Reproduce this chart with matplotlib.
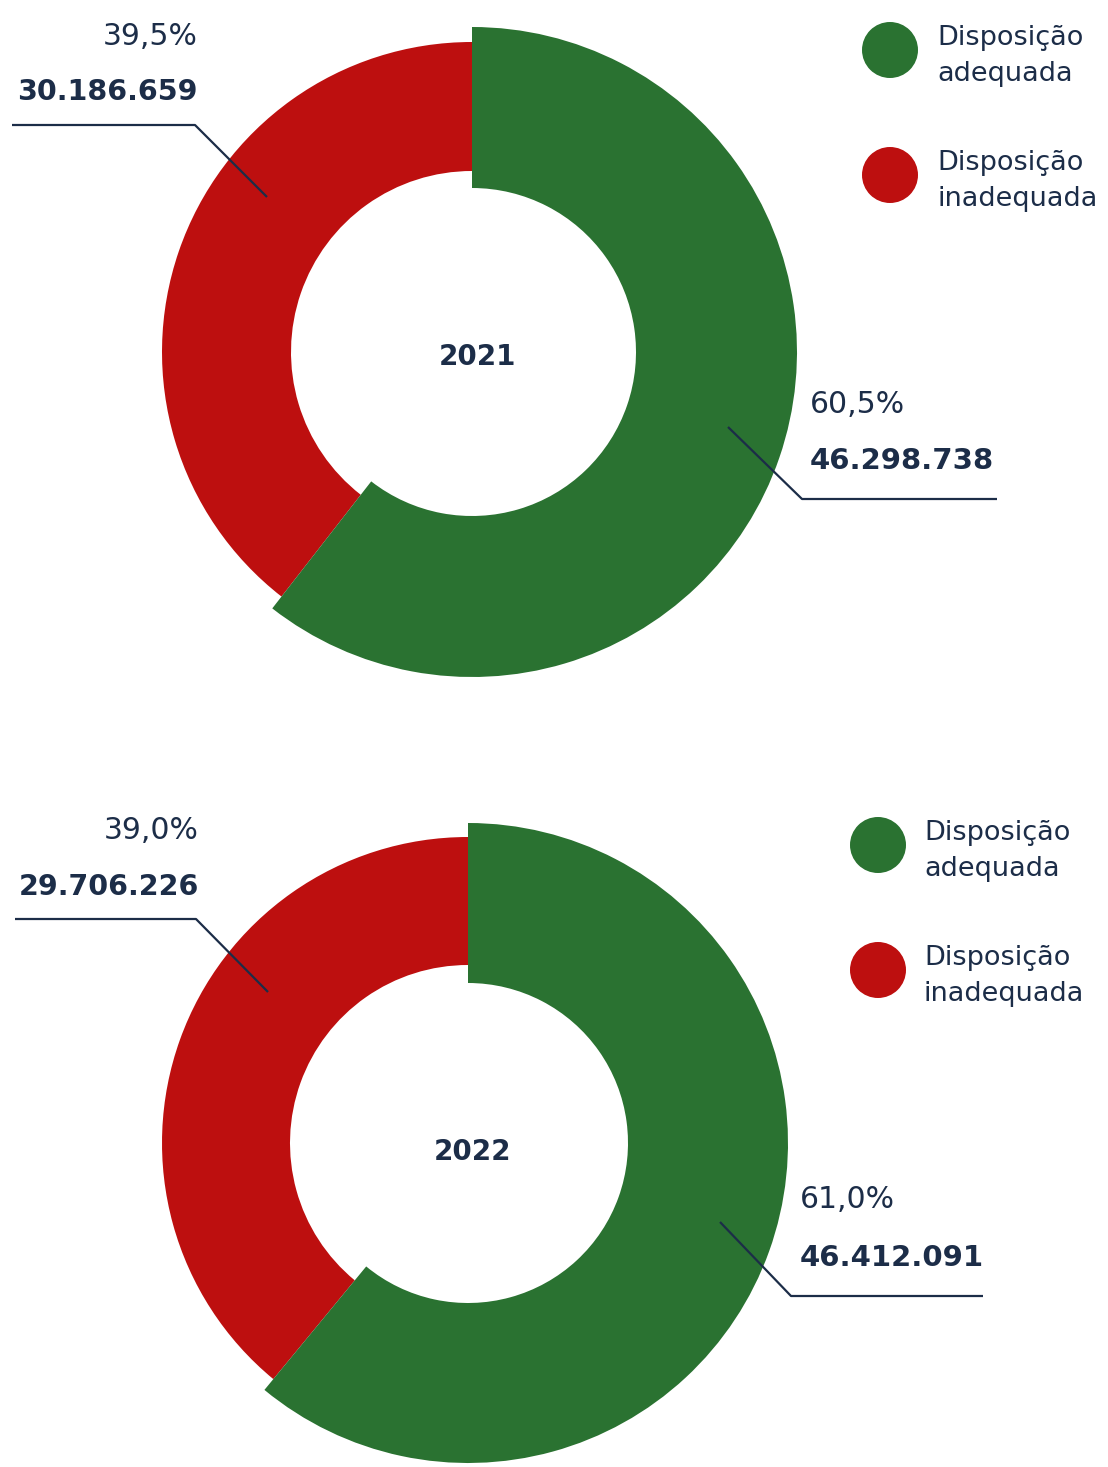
import matplotlib.pyplot as plt
from matplotlib.patches import Wedge, Circle

# data
years = ['2021', '2022']
adequada = [46298738, 46412091]
inadequada = [30186659, 29706226]
pct_adequada = ['60,5%', '61,0%']
pct_inadequada = ['39,5%', '39,0%']
legend_labels = ['Disposição\nadequada', 'Disposição\ninadequada']

GREEN = '#2A7231'
RED = '#BD0F0F'
NAVY = '#1C2D48'


def fmt(n):
    return f'{n:,}'.replace(',', '.')


# pixel layout of each donut (figure coords, y down)
layout = [
    dict(cx=472, cy=352, g_out=325, g_in=164, r_out=310, r_in=181, year_xy=(477, 357),
         left_base=(198, 45, 100), left_line=[(12, 125), (195, 125), (267, 197)],
         right_base=(810, 413, 469), right_line=[(728, 427), (802, 499), (997, 499)],
         leg=(890, 50, 937)),
    dict(cx=468, cy=1143, g_out=320, g_in=160, r_out=306, r_in=178, year_xy=(472, 1152),
         left_base=(199, 839, 895), left_line=[(15, 919), (196, 919), (268, 992)],
         right_base=(800, 1208, 1266), right_line=[(720, 1222), (791, 1296), (983, 1296)],
         leg=(878, 845, 924)),
]

fig = plt.figure(figsize=(11.08, 14.67), dpi=100)
ax = fig.add_axes([0, 0, 1, 1])
ax.set_xlim(0, 1108)
ax.set_ylim(1467, 0)
ax.set_aspect('equal')
ax.axis('off')

for i, lay in enumerate(layout):
    total = adequada[i] + inadequada[i]
    # y axis is inverted, so growing angles run clockwise on screen; 270 is 12 o'clock
    start = 270
    split = start + 360 * adequada[i] / total
    ax.add_patch(Wedge((lay['cx'], lay['cy']), lay['r_out'], split, start + 360,
                       width=lay['r_out'] - lay['r_in'], facecolor=RED, edgecolor='none'))
    ax.add_patch(Wedge((lay['cx'], lay['cy']), lay['g_out'], start, split,
                       width=lay['g_out'] - lay['g_in'], facecolor=GREEN, edgecolor='none'))

    ax.text(*lay['year_xy'], years[i], ha='center', va='center', fontsize=20,
            fontweight='bold', color=NAVY)

    # left label (inadequada)
    x, y1, y2 = lay['left_base']
    ax.text(x, y1, pct_inadequada[i], ha='right', va='baseline', fontsize=21.5, color=NAVY)
    ax.text(x, y2, fmt(inadequada[i]), ha='right', va='baseline', fontsize=20.5,
            fontweight='bold', color=NAVY)
    xs, ys = zip(*lay['left_line'])
    ax.plot(xs, ys, color=NAVY, lw=1.6, solid_capstyle='butt')

    # right label (adequada)
    x, y1, y2 = lay['right_base']
    ax.text(x, y1, pct_adequada[i], ha='left', va='baseline', fontsize=21.5, color=NAVY)
    ax.text(x, y2, fmt(adequada[i]), ha='left', va='baseline', fontsize=21,
            fontweight='bold', color=NAVY)
    xs, ys = zip(*lay['right_line'])
    ax.plot(xs, ys, color=NAVY, lw=1.6, solid_capstyle='butt')

    # legend
    lx, ly, tx = lay['leg']
    for j, (lab, col) in enumerate(zip(legend_labels, [GREEN, RED])):
        cy = ly + j * 125
        ax.add_patch(Circle((lx, cy), 28, facecolor=col, edgecolor='none'))
        l1, l2 = lab.split('\n')
        ax.text(tx, cy - 5, l1, ha='left', va='baseline', fontsize=19.5, color=NAVY)
        ax.text(tx, cy + 31, l2, ha='left', va='baseline', fontsize=19.5, color=NAVY)

fig.savefig('out.png', dpi=100, facecolor='white')
